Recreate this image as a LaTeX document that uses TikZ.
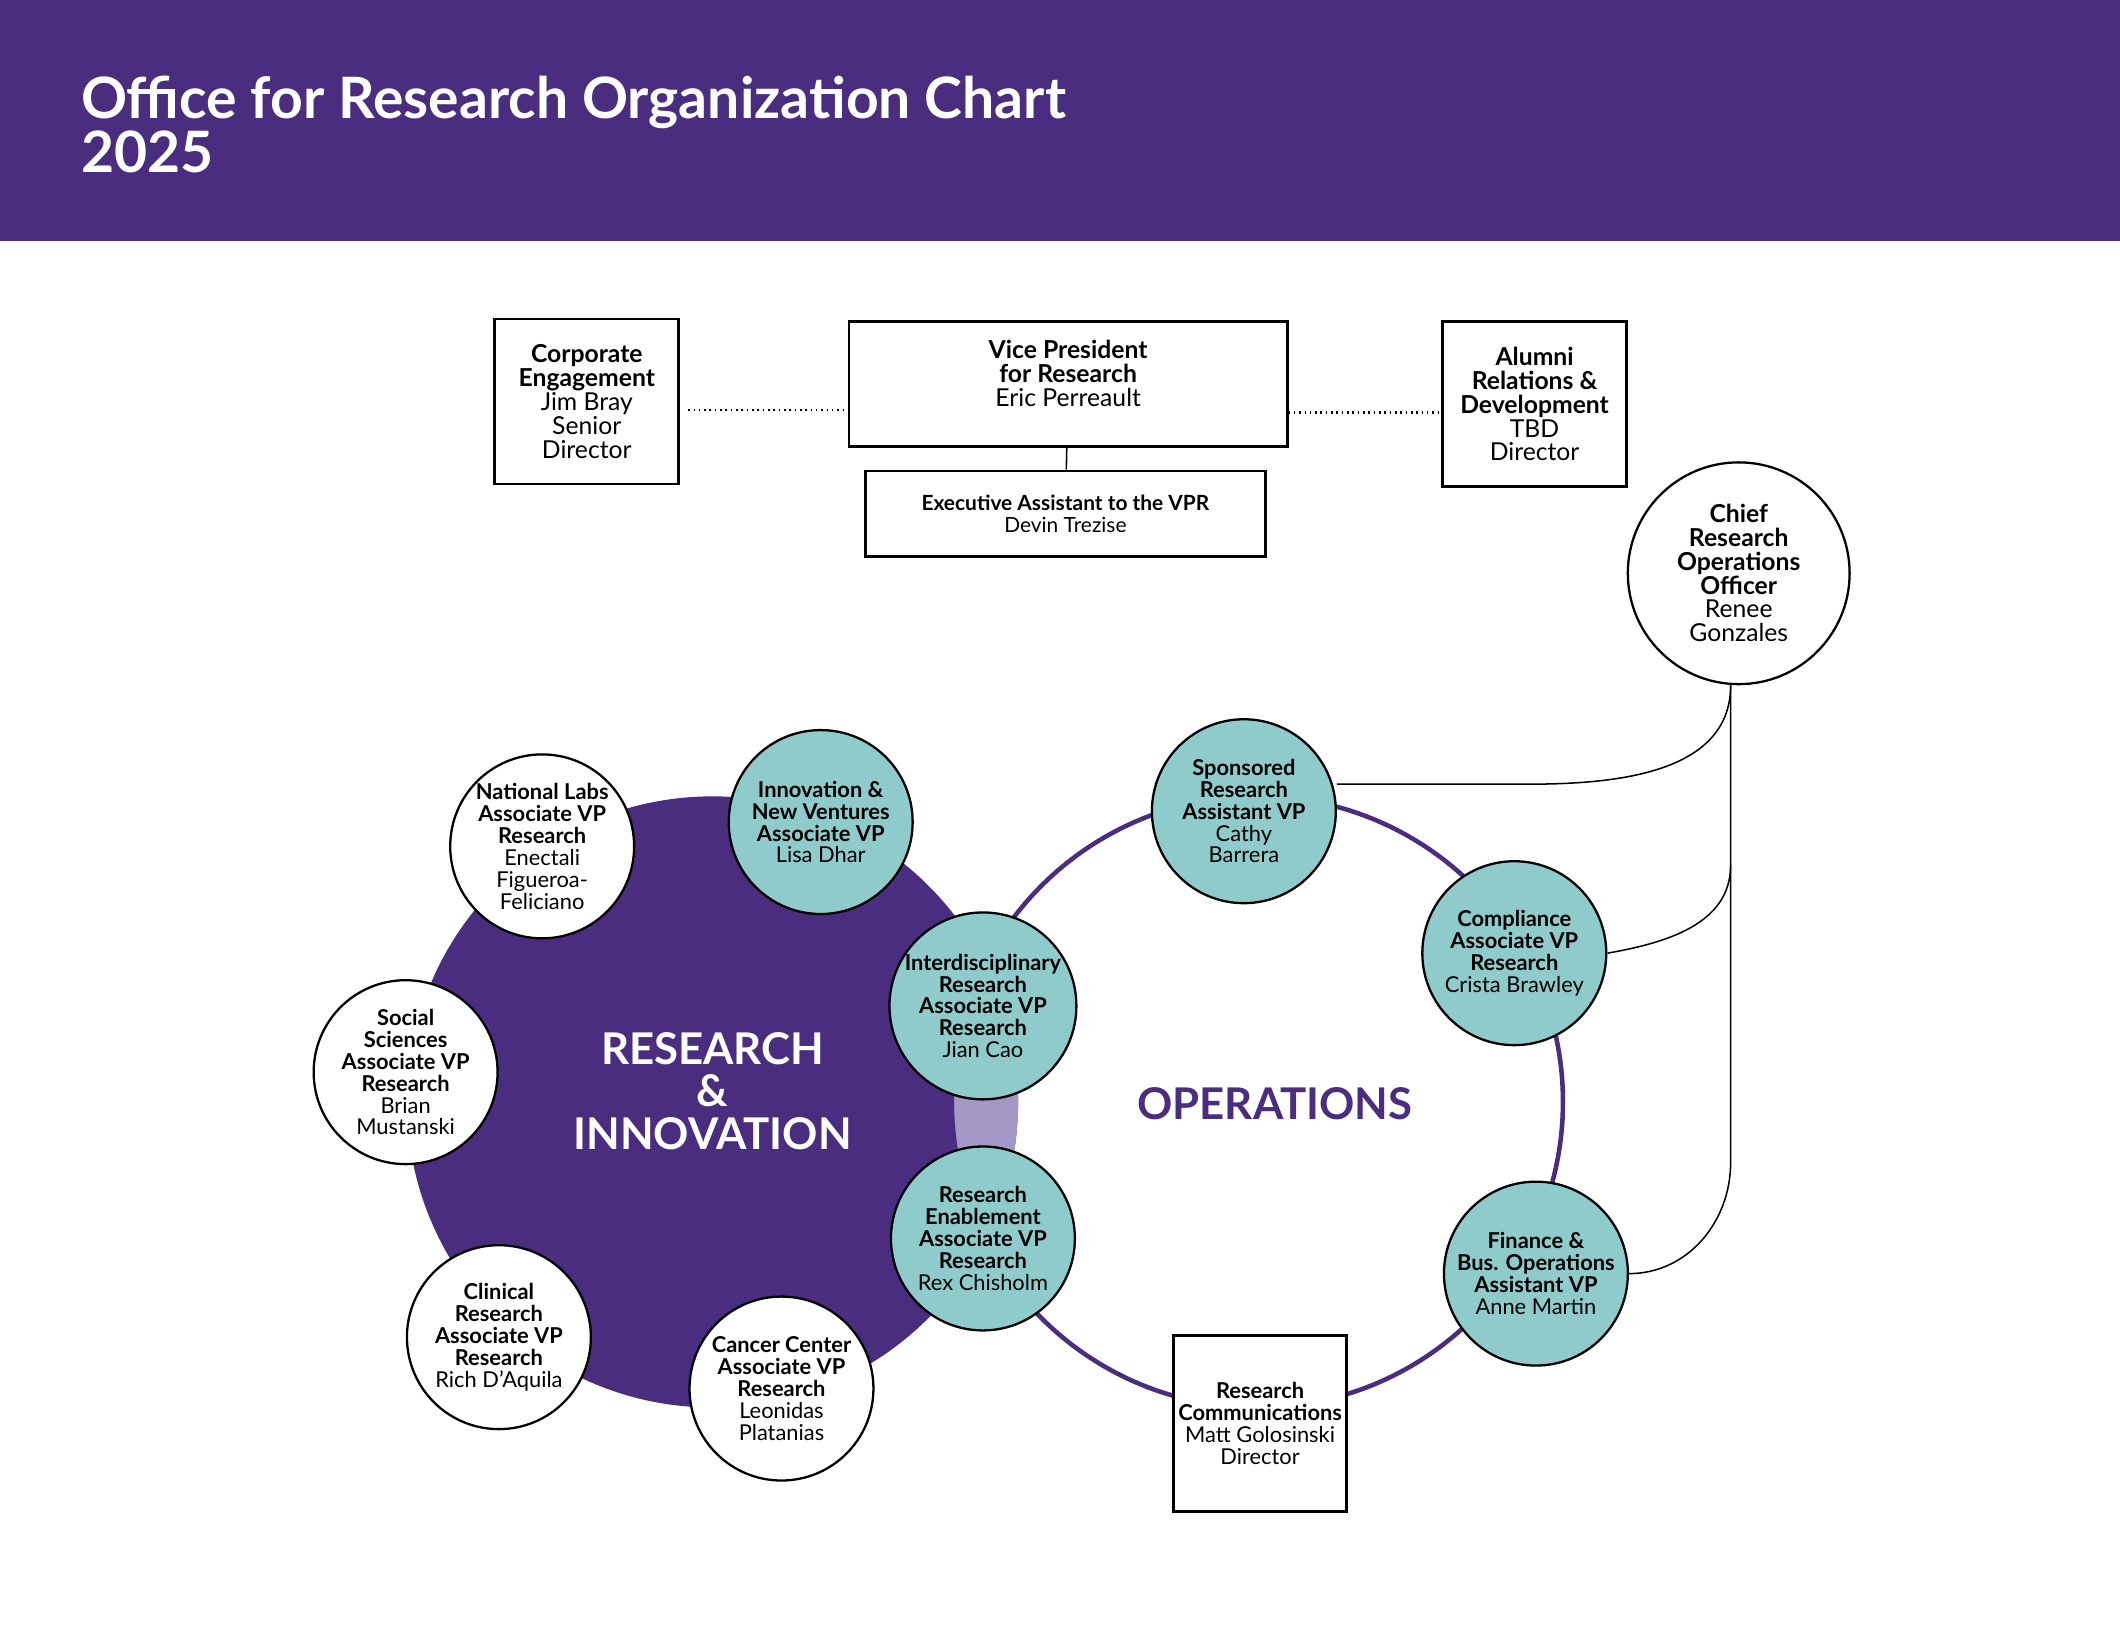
\documentclass[tikz,border=0pt]{standalone}
\usepackage{fontspec}
\setmainfont{Lato}
\usetikzlibrary{positioning}
\definecolor{uPurple}{HTML}{4B2D80}
\definecolor{uLilac}{HTML}{A397C6}
\definecolor{uTeal}{HTML}{8FCBCB}
\tikzset{
  unit/.style={circle, draw=black, line width=1.2pt, minimum size=3.4cm, inner sep=0pt, align=center,
    font=\fontsize{11.5}{11.5}\selectfont},
  teal/.style={unit, fill=uTeal},
  white/.style={unit, fill=white},
  box/.style={rectangle, draw=black, line width=1.4pt, align=center, inner sep=0pt,
    font=\fontsize{13}{12.5}\selectfont},
  link/.style={black, line width=0.8pt},
}
\begin{document}
\begin{tikzpicture}[x=0.025cm, y=-0.025cm]
  \useasboundingbox (0,0) rectangle (1568,1220);
  % header band
  \fill[uPurple] (0,0) rectangle (1568,178);
  \node[anchor=west, text=white, align=left, font=\bfseries\fontsize{30}{27}\selectfont] (title) at (55,92)
    {Office for Research Organization Chart\\2025};
  % the two circles
  \fill[uPurple] (527,815) circle (226);
  \begin{scope}
    \clip (527,815) circle (226);
    \fill[uLilac] (930,815) circle (226);
  \end{scope}
  \draw[uPurple, line width=2.4pt] (930,815) circle (226);
  \node[text=white, align=center, font=\bfseries\fontsize{23}{22.5}\selectfont] (ri) at (527,807)
    {RESEARCH\\\&\\INNOVATION};
  \node[text=uPurple, font=\bfseries\fontsize{23}{22}\selectfont] (ops) at (943,816) {OPERATIONS};
  % top row
  \node[box, minimum width=3.4cm, minimum height=3.05cm] (corp) at (434,297)
    {\textbf{Corporate}\\\textbf{Engagement}\\Jim Bray\\Senior\\Director};
  \node[box, minimum width=8.1cm, minimum height=2.3cm, text depth=0.4cm] (vpr) at (790,284)
    {\textbf{Vice President}\\\textbf{for Research}\\Eric Perreault};
  \node[box, minimum width=7.4cm, minimum height=1.58cm, font=\fontsize{11}{11.5}\selectfont] (exec) at (788,380)
    {\textbf{Executive Assistant to the VPR}\\Devin Trezise};
  \node[box, minimum width=3.4cm, minimum height=3.05cm] (alum) at (1135,299)
    {\textbf{Alumni}\\\textbf{Relations \&}\\\textbf{Development}\\TBD\\Director};
  \draw[link] (vpr) -- (exec);
  \draw[link, dotted, line width=1.2pt] (corp.east) ++(6,6) coordinate (c1) -- (c1 -| vpr.west);
  \draw[link, dotted, line width=1.2pt] (vpr.east |- 0,305) coordinate (c2) -- (c2 -| alum.west);
  % chief
  \node[white, minimum size=4.1cm, font=\fontsize{13}{12.5}\selectfont] (cro) at (1286,424)
    {\textbf{Chief}\\\textbf{Research}\\\textbf{Operations}\\\textbf{Officer}\\Renee\\Gonzales};
  % research & innovation units
  \node[white] (labs) at (401,626) {\textbf{National Labs}\\\textbf{Associate VP}\\\textbf{Research}\\Enectali\\Figueroa-\\Feliciano};
  \node[white] (social) at (300,793) {\textbf{Social}\\\textbf{Sciences}\\\textbf{Associate VP}\\\textbf{Research}\\Brian\\Mustanski};
  \node[white] (clin) at (369,989) {\textbf{Clinical}\\\textbf{Research}\\\textbf{Associate VP}\\\textbf{Research}\\Rich D’Aquila};
  \node[white] (cancer) at (578,1027) {\textbf{Cancer Center}\\\textbf{Associate VP}\\\textbf{Research}\\Leonidas\\Platanias};
  \node[teal] (innov) at (607,608) {\textbf{Innovation \&}\\\textbf{New Ventures}\\\textbf{Associate VP}\\Lisa Dhar};
  \node[teal] (inter) at (727,744) {\textbf{Interdisciplinary}\\\textbf{Research}\\\textbf{Associate VP}\\\textbf{Research}\\Jian Cao};
  \node[teal] (enable) at (727,916) {\textbf{Research}\\\textbf{Enablement}\\\textbf{Associate VP}\\\textbf{Research}\\Rex Chisholm};
  % operations units
  \node[teal] (spons) at (920,600) {\textbf{Sponsored}\\\textbf{Research}\\\textbf{Assistant VP}\\Cathy\\Barrera};
  \node[teal] (comp) at (1120,705) {\textbf{Compliance}\\\textbf{Associate VP}\\\textbf{Research}\\Crista Brawley};
  \node[teal] (fin) at (1136,942) {\textbf{Finance \&}\\\textbf{Bus. Operations}\\\textbf{Assistant VP}\\Anne Martin};
  \node[box, fill=white, minimum width=3.2cm, minimum height=3.25cm, font=\fontsize{11.5}{11.5}\selectfont] (comms) at (932,1053)
    {\textbf{Research}\\\textbf{Communications}\\Matt Golosinski\\Director};
  % links to chief
  \coordinate (tap) at (1280,507);
  \draw[link] (spons.east) ++(0,-20) coordinate (s1) -- (1130,580) to[out=0, in=270] (tap);
  \draw[link] (comp.east) to[out=10, in=270] (1280,640);
  \draw[link] (tap) -- (1280,860) to[out=270, in=0] (fin.east);
\end{tikzpicture}
\end{document}
